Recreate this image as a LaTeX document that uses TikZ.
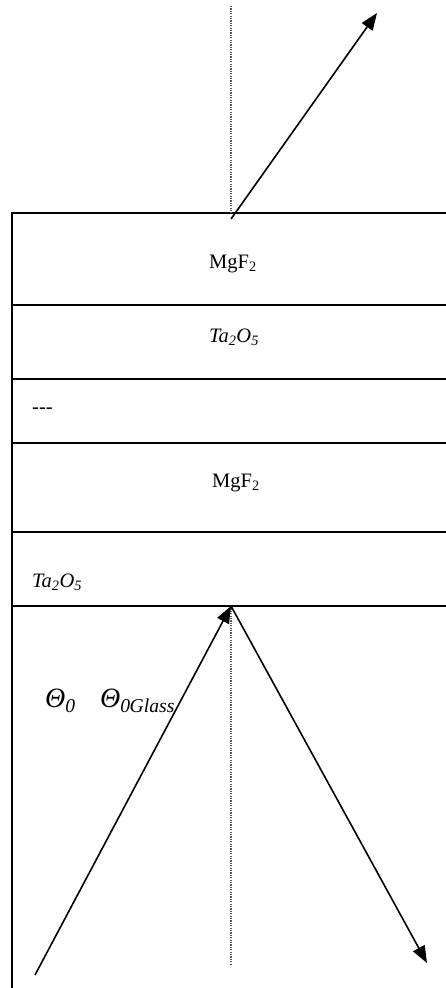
\documentclass[tikz,border=0pt]{standalone}
\usepackage{fontspec}
\setmainfont{Liberation Serif}
\usetikzlibrary{arrows.meta}
\tikzset{
  layer/.style={line width=2pt},
  ray/.style={line width=1.6pt,-{Triangle[length=17pt,width=13pt]}},
  normal/.style={line width=1.3pt,dash pattern=on 1.2pt off 1.2pt,gray!70!black},
  lbl/.style={font=\fontsize{20.5}{22}\selectfont,inner sep=0pt},
  ang/.style={font=\fontsize{28}{30}\selectfont\itshape,inner sep=0pt}
}
\begin{document}
\begin{tikzpicture}[x=1pt,y=-1pt]
\useasboundingbox (0,0) rectangle (446,988);
% layer boundaries
\coordinate (tl) at (12,213);
\coordinate (bl) at (12,988);
\coordinate (tr) at (446,213);
\draw[layer] (bl) -- (tl) -- (tr);
\foreach \y/\n in {305/a,379/b,443/c,532/d,606/e}{
  \coordinate (l\n) at (12,\y);
  \coordinate (r\n) at (446,\y);
  \draw[layer] (l\n) -- (r\n);
}
% normals
\coordinate (n1) at (231,6);
\coordinate (p1) at (231,213);
\coordinate (p2) at (231,606);
\coordinate (n2) at (231,964);
\draw[normal] (n1) -- (p1);
\draw[normal] (p2) -- (n2);
% rays
\coordinate (outstart) at (231,219);
\coordinate (outend) at (377,13);
\coordinate (instart) at (35,975);
\coordinate (refend) at (427,963);
\draw[ray] (outstart) -- (outend);
\draw[ray] (instart) -- (p2);
\draw[ray] (p2) -- (refend);
% labels
\node[lbl] (m1) at (233,264) {MgF\textsubscript{2}};
\node[lbl] (t1) at (234,337) {\itshape Ta\textsubscript{2}O\textsubscript{5}};
\node[lbl,anchor=west] (dd) at (32,411) {-{}-{}-};
\node[lbl] (m2) at (236,483) {MgF\textsubscript{2}};
\node[lbl,anchor=west] (t2) at (32,582) {\itshape Ta\textsubscript{2}O\textsubscript{5}};
\node[ang,anchor=west] (th0) at (45,701) {Θ\textsubscript{0}};
\node[ang,anchor=west] (thg) at (100,701) {Θ\textsubscript{0\kern-0.5pt Glass}};
\end{tikzpicture}
\end{document}
